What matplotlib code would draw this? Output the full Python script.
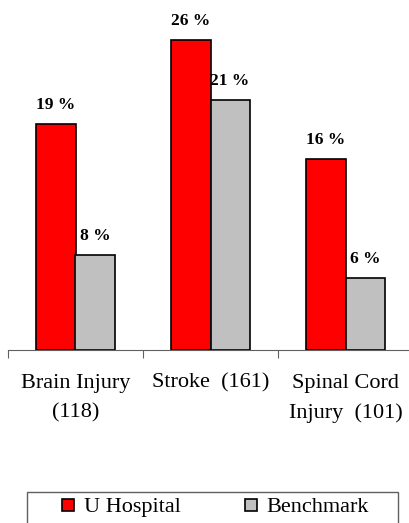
import numpy as np
import matplotlib.pyplot as plt
from matplotlib.lines import Line2D
from matplotlib.patches import Rectangle

plt.rcParams['font.family'] = ['Liberation Serif', 'DejaVu Serif']

categories = ['Brain Injury\n(118)', 'Stroke  (161)', 'Spinal Cord\nInjury  (101)']
u_hospital = [19, 26, 16]
benchmark = [8, 21, 6]
series_names = ['U Hospital', 'Benchmark']
colors = ['#ff0000', '#c0c0c0']

fig = plt.figure(figsize=(4.09, 5.23), dpi=100)
ax = fig.add_axes([8 / 409, 173 / 523, 405 / 409, 350 / 523])

x = np.arange(len(categories)) + 0.5
w = 0.289
for vals, off, col in [(u_hospital, -w / 2, colors[0]), (benchmark, w / 2, colors[1])]:
    bars = ax.bar(x + off, vals, w, color=col, edgecolor='black', linewidth=1.2)
    for b, v in zip(bars, vals):
        ax.annotate(f'{v} %', (b.get_x() + b.get_width() / 2, v),
                    xytext=(0, 10.8), textcoords='offset points',
                    ha='center', va='baseline', fontsize=12.5, fontweight='bold')

ax.set_xlim(0, 3)
ax.set_ylim(0, 350 / 11.92)
ax.set_xticks([0, 1, 2, 3])
ax.set_xticklabels([])
ax.set_xticks(x, minor=True)
ax.set_xticklabels(categories, minor=True, fontsize=16, linespacing=1.75)
ax.tick_params(axis='x', which='major', length=6, color='#606060', direction='out')
ax.tick_params(axis='x', which='minor', length=0, pad=17)
ax.set_yticks([])
for s in ['left', 'top', 'right']:
    ax.spines[s].set_visible(False)
ax.spines['bottom'].set_color('#606060')

# legend box (runs off the bottom edge like the original)
fig.patches.append(Rectangle((27 / 409, -0.05), 371 / 409, 0.05 + 31 / 523,
                             transform=fig.transFigure, fill=False,
                             edgecolor='#606060', linewidth=1.0))
handles = [Line2D([], [], marker='s', linestyle='none', markersize=8.6,
                  markerfacecolor=c, markeredgecolor='black', markeredgewidth=1.2)
           for c in colors]
fig.legend(handles, series_names, ncol=2, loc='center',
           bbox_to_anchor=(214 / 409, 1 - 507 / 523), fontsize=16,
           frameon=False, handlelength=0.8, handletextpad=0.3,
           columnspacing=2.75, borderpad=0, borderaxespad=0)

fig.savefig('out.png', dpi=100)
